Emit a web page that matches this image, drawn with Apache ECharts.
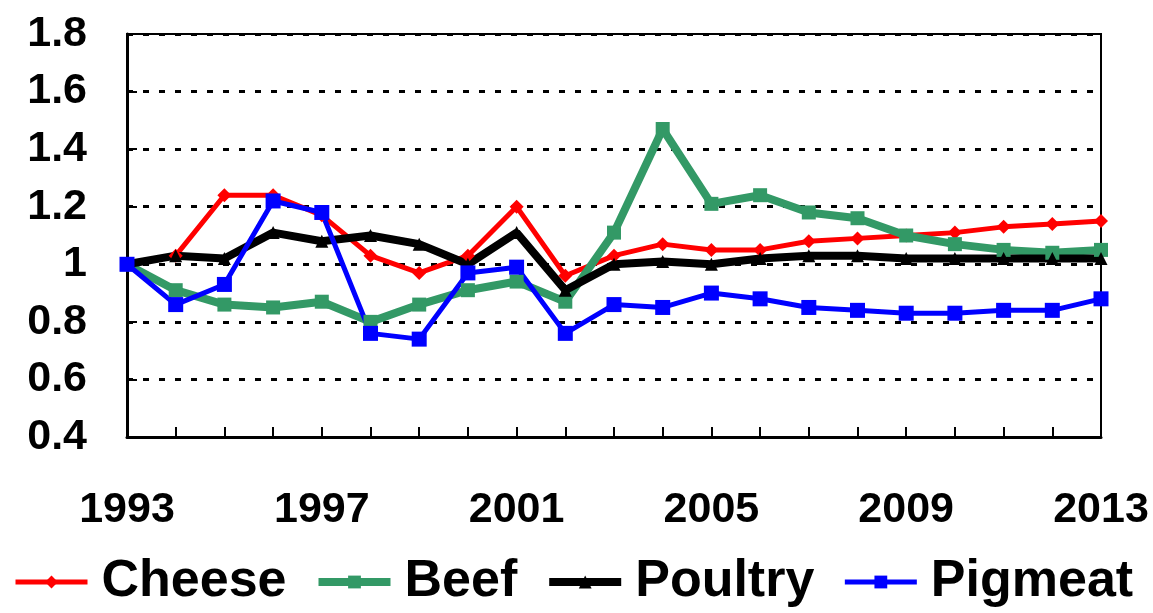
<!DOCTYPE html>
<html>
<head>
<meta charset="utf-8">
<script src="https://cdn.jsdelivr.net/npm/echarts@6/dist/echarts.min.js"></script>
<style>
  html, body { margin: 0; padding: 0; background: #fff; }
  #chart { width: 1153px; height: 613px; }
</style>
</head>
<body>
<div id="chart"></div>
<script>
let years = ['1993','1994','1995','1996','1997','1998','1999','2000','2001','2002','2003',
             '2004','2005','2006','2007','2008','2009','2010','2011','2012','2013'];

let cheese  = [1.00,1.03,1.24,1.24,1.17,1.03,0.97,1.03,1.20,0.96,1.03,1.07,1.05,1.05,1.08,1.09,1.10,1.11,1.13,1.14,1.15];
let beef    = [1.00,0.91,0.86,0.85,0.87,0.80,0.86,0.91,0.94,0.87,1.11,1.47,1.21,1.24,1.18,1.16,1.10,1.07,1.05,1.04,1.05];
let poultry = [1.00,1.03,1.02,1.11,1.08,1.10,1.07,1.00,1.11,0.91,1.00,1.01,1.00,1.02,1.03,1.03,1.02,1.02,1.02,1.02,1.02];
let pigmeat = [1.00,0.86,0.93,1.22,1.18,0.76,0.74,0.97,0.99,0.76,0.86,0.85,0.90,0.88,0.85,0.84,0.83,0.83,0.84,0.84,0.88];

let chart = echarts.init(document.getElementById('chart'));

function line(name, data, color, width, symbol, size) {
    return {
        name: name,
        type: 'line',
        data: data,
        symbol: symbol,
        symbolSize: size,
        showSymbol: true,
        lineStyle: { color: color, width: width },
        itemStyle: { color: color },
        emphasis: { disabled: true }
    };
}

let font = '"Liberation Sans", Arial, sans-serif';

let option = {
    animation: false,
    backgroundColor: '#fff',
    grid: {
        left: 127, right: 52, top: 34, bottom: 176,
        show: true, borderColor: '#000', borderWidth: 2
    },
    legend: {
        bottom: 0,
        left: 8,
        itemWidth: 72,
        itemHeight: 16,
        itemGap: 28,
        lineStyle: { width: 'inherit' },
        textStyle: {
            fontFamily: font, fontWeight: 'bold', fontSize: 52, color: '#000',
            padding: [0, 0, 0, 9]
        },
        data: ['Cheese', 'Beef', 'Poultry', 'Pigmeat']
    },
    xAxis: {
        type: 'category',
        data: years,
        boundaryGap: false,
        axisLine: { lineStyle: { color: '#000', width: 3 } },
        axisTick: { show: true, inside: true, length: 10, interval: 0, lineStyle: { color: '#000', width: 2 } },
        axisLabel: {
            interval: 3, margin: 52,
            fontFamily: font, fontWeight: 'bold', fontSize: 43, color: '#000'
        },
        splitLine: { show: false }
    },
    yAxis: {
        type: 'value',
        min: 0.4, max: 1.8, interval: 0.2,
        axisLine: { show: true, lineStyle: { color: '#000', width: 3 } },
        axisTick: { show: true, inside: true, length: 10, lineStyle: { color: '#000', width: 2 } },
        axisLabel: {
            margin: 40,
            fontFamily: font, fontWeight: 'bold', fontSize: 43, color: '#000'
        },
        splitLine: { show: true, lineStyle: { color: '#000', width: 3, type: [6, 10] } }
    },
    series: [
        line('Cheese', cheese, '#ff0000', 5, 'diamond', 14),
        line('Beef', beef, '#339966', 8, 'rect', 14),
        line('Poultry', poultry, '#000000', 8, 'triangle', 13),
        line('Pigmeat', pigmeat, '#0000ff', 5, 'rect', 15)
    ]
};

chart.setOption(option);
</script>
</body>
</html>
